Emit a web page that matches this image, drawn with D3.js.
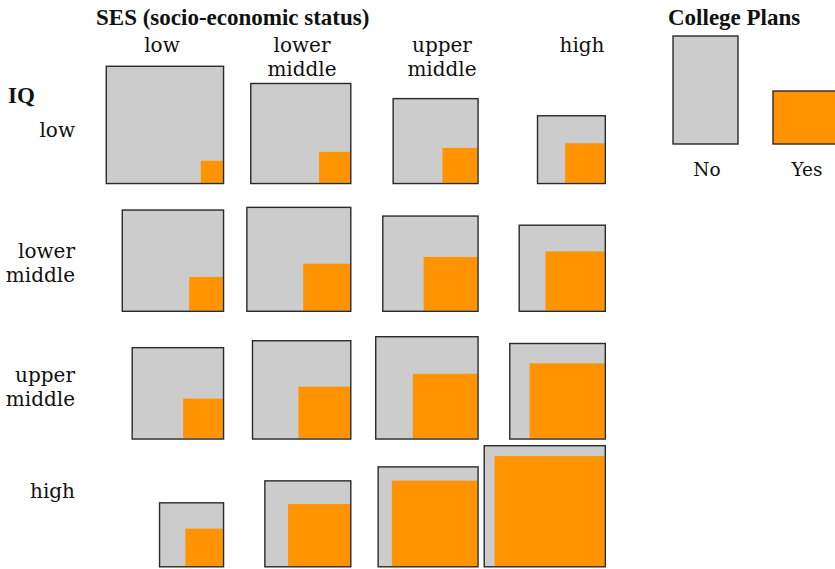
<!DOCTYPE html>
<html><head><meta charset="utf-8">
<script src="https://cdn.jsdelivr.net/npm/d3@7"></script>
<style>
html,body{margin:0;padding:0;background:#fff;}
svg{display:block;}
text{fill:#111;}
.lab{font-family:"DejaVu Serif",serif;}
.ttl{font-family:"Liberation Serif",serif;font-weight:bold;}
</style>
</head><body>
<svg id="chart" width="835" height="569"></svg>
<script>
// ---- data ----
const sesLevels = ["low", "lower middle", "upper middle", "high"];
const iqLevels  = ["low", "lower middle", "upper middle", "high"];
const planLevels = ["No", "Yes"];
// counts of students by SES (columns) within each IQ level
const noIQLow          = [928, 636, 424, 218];
const yesIQLow         = [34, 67, 85, 109];
const noIQLowerMiddle  = [641, 605, 437, 279];
const yesIQLowerMiddle = [79, 153, 201, 244];
const noIQUpperMiddle  = [478, 493, 445, 250];
const yesIQUpperMiddle = [110, 186, 290, 392];
const noIQHigh         = [194, 253, 192, 182];
const yesIQHigh        = [98, 268, 509, 843];

const noRows = [noIQLow, noIQLowerMiddle, noIQUpperMiddle, noIQHigh];
const yesRows = [yesIQLow, yesIQLowerMiddle, yesIQUpperMiddle, yesIQHigh];
const cells = [];
iqLevels.forEach((iq, r) => sesLevels.forEach((ses, c) => {
  cells.push({iq, ses, no: noRows[r][c], yes: yesRows[r][c], total: noRows[r][c] + yesRows[r][c]});
}));

// ---- layout ----
const svg = d3.select("#chart");
const gray = "#cccccc", orange = "#ff9400", edge = "#2a2a2a";
const x = d3.scaleBand().domain(sesLevels).range([97, 606]);
const y = d3.scaleBand().domain(iqLevels).range([56.5, 567.5]);
const maxTotal = d3.max(cells, d => d.total);
const side = d3.scaleSqrt().domain([0, maxTotal]).range([0, 122.5]);
const ySide = d3.scaleSqrt().domain([0, maxTotal]).range([0, 121.3]);
const sw = 1.4;

const g = svg.append("g");
const cell = g.selectAll("g.cell").data(cells).join("g").attr("class", "cell");
const R = d => x(d.ses) + x.bandwidth();
const B = d => y(d.iq) + y.bandwidth();
cell.append("rect")
  .attr("x", d => R(d) - side(d.total) + sw/2)
  .attr("y", d => B(d) - side(d.total) + sw/2)
  .attr("width", d => side(d.total) - sw)
  .attr("height", d => side(d.total) - sw)
  .attr("fill", gray);
cell.append("rect")
  .attr("x", d => R(d) - sw - ySide(d.yes))
  .attr("y", d => B(d) - sw - ySide(d.yes))
  .attr("width", d => ySide(d.yes))
  .attr("height", d => ySide(d.yes))
  .attr("fill", orange);
cell.append("rect")
  .attr("x", d => R(d) - side(d.total) + sw/2)
  .attr("y", d => B(d) - side(d.total) + sw/2)
  .attr("width", d => side(d.total) - sw)
  .attr("height", d => side(d.total) - sw)
  .attr("fill", "none").attr("stroke", edge).attr("stroke-width", sw);

// column header (SES)
svg.append("text").attr("class", "ttl").attr("x", 96).attr("y", 25)
  .attr("font-size", 23).text("SES (socio-economic status)");
const colX = d3.scalePoint().domain(sesLevels).range([162, 582]);
sesLevels.forEach(s => {
  const t = svg.append("text").attr("class", "lab").attr("text-anchor", "middle").attr("font-size", 20);
  s.split(" ").forEach((w, i) => t.append("tspan").attr("x", colX(s)).attr("y", 52 + i * 24).text(w));
});

// row header (IQ)
svg.append("text").attr("class", "ttl").attr("x", 8).attr("y", 103)
  .attr("font-size", 23).text("IQ");
const rowY = [136.7, 257.7, 381.7, 498.3];
iqLevels.forEach((q, r) => {
  const t = svg.append("text").attr("class", "lab").attr("text-anchor", "end").attr("font-size", 20);
  q.split(" ").forEach((w, i) => t.append("tspan").attr("x", 75).attr("y", rowY[r] + i * 24.5).text(w));
});

// legend
svg.append("text").attr("class", "ttl").attr("x", 668).attr("y", 25)
  .attr("font-size", 23).text("College Plans");
const legendX = d3.scalePoint().domain(planLevels).range([705.5, 805.5]);
const legendH = {No: 108, Yes: 53};
const legendFill = {No: gray, Yes: orange};
planLevels.forEach(p => {
  svg.append("rect").attr("x", legendX(p) - 32.5).attr("y", 144 - legendH[p])
    .attr("width", 65).attr("height", legendH[p])
    .attr("fill", legendFill[p]).attr("stroke", edge).attr("stroke-width", sw);
  svg.append("text").attr("class", "lab").attr("x", legendX(p) + 1.5).attr("y", 176).attr("text-anchor", "middle")
    .attr("font-size", 18.5).text(p);
});
</script>
</body></html>
